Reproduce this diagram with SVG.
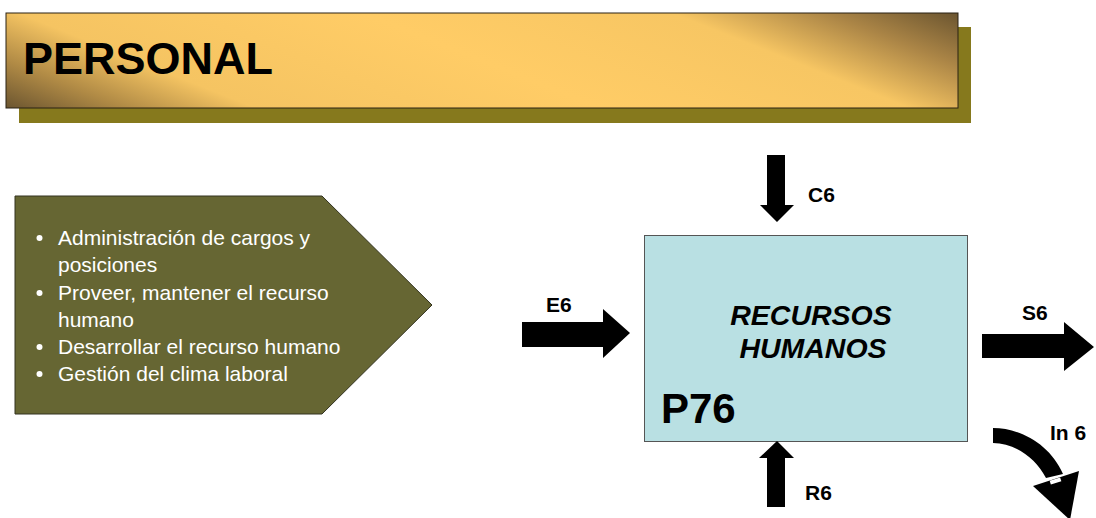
<svg xmlns="http://www.w3.org/2000/svg" width="1096" height="518" viewBox="0 0 1096 518">
  <defs>
    <linearGradient id="gold" gradientUnits="userSpaceOnUse" x1="6" y1="108" x2="170" y2="-302">
      <stop offset="0" stop-color="#6b5530"/>
      <stop offset="0.1" stop-color="#b08a45"/>
      <stop offset="0.21" stop-color="#f5c462"/>
      <stop offset="0.5" stop-color="#ffcc66"/>
      <stop offset="0.76" stop-color="#f7c663"/>
      <stop offset="0.89" stop-color="#ab8546"/>
      <stop offset="1" stop-color="#6b5530"/>
    </linearGradient>
    <style>
      .lbl { font-family: "Liberation Sans", Arial, sans-serif; font-weight: bold; fill: #000; }
      .item { font-family: "Liberation Sans", Arial, sans-serif; font-size: 21px; fill: #ffffff; }
      .arrow { fill: #000; }
    </style>
  </defs>

  <!-- title banner -->
  <g id="title">
    <rect x="19" y="27" width="952" height="96" fill="#86791d"/>
    <rect x="6" y="13" width="952" height="95" fill="url(#gold)" stroke="#2a2214" stroke-width="1"/>
    <text class="lbl" x="23" y="74" font-size="45">PERSONAL</text>
  </g>

  <!-- activity list -->
  <g id="activities">
    <polygon points="15,196 322,196 432,305 322,414 15,414" fill="#666633" stroke="#333320" stroke-width="1"/>
    <g fill="#ffffff">
      <circle cx="39.5" cy="238" r="3"/>
      <circle cx="39.5" cy="293" r="3"/>
      <circle cx="39.5" cy="347" r="3"/>
      <circle cx="39.5" cy="374" r="3"/>
    </g>
    <text class="item" x="58" y="245">Administración de cargos y</text>
    <text class="item" x="58" y="272">posiciones</text>
    <text class="item" x="58" y="300">Proveer, mantener el recurso</text>
    <text class="item" x="58" y="327">humano</text>
    <text class="item" x="58" y="354">Desarrollar el recurso humano</text>
    <text class="item" x="58" y="381">Gestión del clima laboral</text>
  </g>

  <!-- process box -->
  <g id="process">
    <rect x="644.5" y="235.5" width="323" height="206" fill="#b9e0e3" stroke="#555555" stroke-width="1"/>
    <text class="lbl" x="811" y="325" font-size="28.5" font-style="italic" text-anchor="middle">RECURSOS</text>
    <text class="lbl" x="813" y="358" font-size="28.5" font-style="italic" text-anchor="middle">HUMANOS</text>
    <text class="lbl" x="661" y="423" font-size="42">P76</text>
  </g>

  <!-- inputs and outputs -->
  <g id="connectors">
    <!-- C6: control from above -->
    <polygon class="arrow" points="767,155 785,155 785,205 794,205 777,222 760,205 767,205"/>
    <!-- E6: entry from the left -->
    <polygon class="arrow" points="522,322 603,322 603,309 630,333 603,358 603,347 522,347"/>
    <!-- S6: output to the right -->
    <polygon class="arrow" points="982,334 1064,334 1064,322 1094,347 1064,371 1064,358 982,358"/>
    <!-- R6: resource from below -->
    <polygon class="arrow" points="777,441 794,458 785,458 785,507 767,507 767,458 759,458"/>
    <!-- In 6: curved indicator arrow -->
    <path class="arrow" d="M993,428 C1020,428 1050,444 1063,474 L1046,478 C1036,458 1015,443 993,443 Z"/>
    <polygon class="arrow" points="1033,486 1079,471 1070,520"/>
    <rect x="1050" y="479" width="11" height="4" fill="#ffffff" transform="rotate(-18 1055.5 481)"/>
  </g>

  <!-- connector labels -->
  <g id="labels">
    <text class="lbl" x="808" y="202" font-size="21">C6</text>
    <text class="lbl" x="546" y="312" font-size="21">E6</text>
    <text class="lbl" x="1022" y="320" font-size="21">S6</text>
    <text class="lbl" x="805" y="500" font-size="21">R6</text>
    <text class="lbl" x="1050" y="440" font-size="21">In 6</text>
  </g>
</svg>
